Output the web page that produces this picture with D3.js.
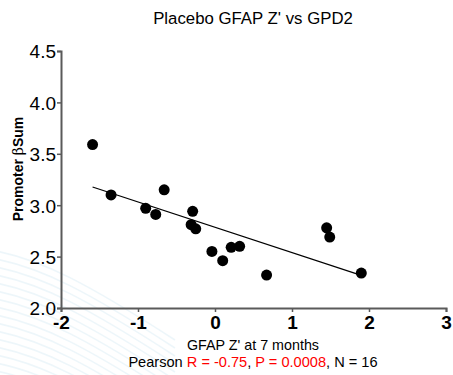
<!DOCTYPE html>
<html>
<head>
<meta charset="utf-8">
<script src="https://cdn.jsdelivr.net/npm/d3@7"></script>
<style>
  body { margin: 0; background: #fff; }
  text { font-family: "Liberation Sans", Arial, sans-serif; }
</style>
</head>
<body>
<div class="container"></div>
<script>
// GFAP Z' values (x) and Promoter beta Sum (y)
let gfapZ = [-1.59, -1.35, -0.90, -0.77, -0.66, -0.29, -0.31, -0.25,
             -0.04, 0.10, 0.21, 0.32, 0.67, 1.45, 1.49, 1.90]
let betaSum = [3.59, 3.10, 2.97, 2.91, 3.15, 2.94, 2.81, 2.77,
               2.55, 2.46, 2.59, 2.60, 2.32, 2.78, 2.69, 2.34]
let xTicks = [-2, -1, 0, 1, 2, 3]
let yTicks = [2.0, 2.5, 3.0, 3.5, 4.0, 4.5]

let width = 453, height = 375

let svg = d3.select('.container')
    .append('svg')
    .attr('width', width)
    .attr('height', height)

// faint wavy background lines, lower left
let bg = svg.append('g')
for (let i = 0; i < 16; i++) {
    let y0 = 250 + i * 8
    bg.append('path')
        .attr('d', `M -10 ${y0} C 40 ${y0 + 8}, 90 ${y0 + 35}, 175 ${y0 + 90}`)
        .attr('fill', 'none')
        .attr('stroke', '#dcedf5')
        .attr('stroke-width', 1.5)
        .attr('opacity', 0.5)
}

let x = d3.scaleLinear().domain([-2, 3]).range([61, 446])
let y = d3.scaleLinear().domain([2, 4.5]).range([308, 51])

let xAxis = svg.append('g')
    .attr('transform', 'translate(0,308)')
    .call(d3.axisBottom(x).tickValues(xTicks).tickFormat(d3.format('d')).tickSizeOuter(0).tickSize(4))
xAxis.select('.domain').attr('stroke', '#5a5a5a').attr('stroke-width', 2)
xAxis.selectAll('.tick line').attr('stroke', '#5a5a5a').attr('stroke-width', 1.5)
xAxis.selectAll('.tick text')
    .attr('y', 8)
    .style('font-size', '19px')
    .style('font-weight', 'bold')
    .attr('fill', '#000')
    .text(d => d < 0 ? '-' + Math.abs(d) : d)

let yAxis = svg.append('g')
    .attr('transform', 'translate(61,0)')
    .call(d3.axisLeft(y).tickValues(yTicks).tickFormat(d3.format('.1f')).tickSizeOuter(0).tickSize(4))
yAxis.select('.domain').attr('stroke', '#5a5a5a').attr('stroke-width', 2)
yAxis.selectAll('.tick line').attr('stroke', '#5a5a5a').attr('stroke-width', 1.5)
yAxis.selectAll('.tick text')
    .attr('x', -5)
    .attr('dy', '0.36em')
    .style('font-size', '19px')
    .attr('fill', '#000')

// linear fit computed from the data
let mx = d3.mean(gfapZ), my = d3.mean(betaSum)
let sxy = d3.sum(gfapZ, (v, i) => (v - mx) * (betaSum[i] - my))
let sxx = d3.sum(gfapZ, v => (v - mx) * (v - mx))
let slope = sxy / sxx
let icpt = my - slope * mx
let fitX = [d3.min(gfapZ), d3.max(gfapZ)]

svg.append('path')
    .attr('d', d3.line().x(d => x(d)).y(d => y(icpt + slope * d))(fitX))
    .attr('stroke', '#000')
    .attr('stroke-width', 1.2)
    .attr('fill', 'none')

svg.append('g').selectAll('circle')
    .data(gfapZ)
    .enter().append('circle')
    .attr('cx', d => x(d))
    .attr('cy', (d, i) => y(betaSum[i]))
    .attr('r', 5.5)
    .attr('fill', '#000')

svg.append('text')
    .attr('x', 253)
    .attr('y', 24)
    .attr('text-anchor', 'middle')
    .style('font-size', '16.8px')
    .text("Placebo GFAP Z' vs GPD2")

let ylab = svg.append('text')
    .attr('transform', 'translate(23,169) rotate(-90)')
    .attr('text-anchor', 'middle')
    .style('font-size', '14px')
    .style('font-weight', 'bold')
ylab.append('tspan').text('Promoter ')
ylab.append('tspan').style('font-weight', 'normal').style('font-family', 'DejaVu Serif, serif').text('β')
ylab.append('tspan').text('Sum')

svg.append('text')
    .attr('x', 253)
    .attr('y', 350)
    .attr('text-anchor', 'middle')
    .style('font-size', '14.3px')
    .text("GFAP Z' at 7 months")

let stat = svg.append('text')
    .attr('x', 253)
    .attr('y', 367)
    .attr('text-anchor', 'middle')
    .style('font-size', '14.6px')
stat.append('tspan').text('Pearson ')
stat.append('tspan').attr('fill', 'red').text('R = -0.75')
stat.append('tspan').text(', ')
stat.append('tspan').attr('fill', 'red').text('P = 0.0008')
stat.append('tspan').text(', N = 16')
</script>
</body>
</html>
